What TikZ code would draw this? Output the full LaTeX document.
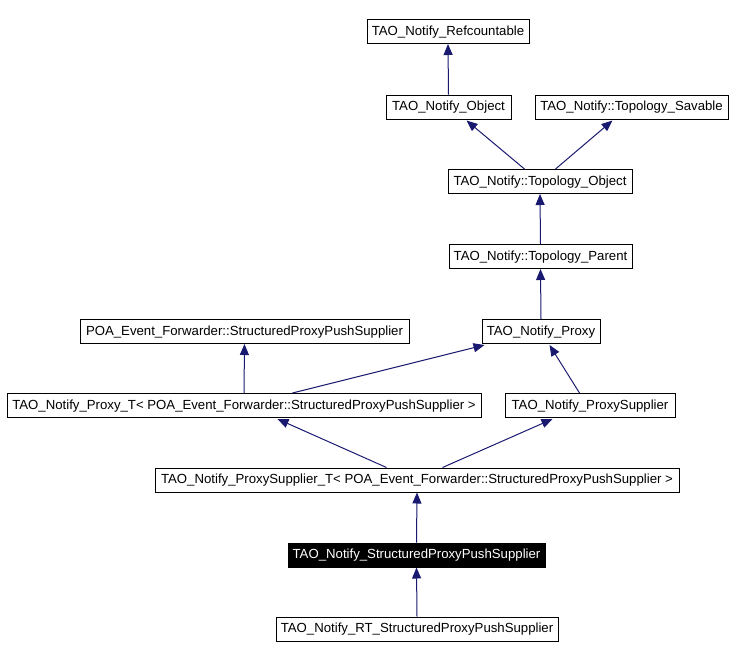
\documentclass[tikz,border=0pt]{standalone}
\usepackage{fontspec}
\setmainfont{Liberation Sans}
\usetikzlibrary{arrows.meta,calc}
\definecolor{edgeblue}{HTML}{191970}
\tikzset{
  cls/.style={draw=black, line width=1pt, inner sep=0pt, minimum height=24pt, text height=9.6pt, text depth=2.4pt, font=\fontsize{13.2}{15}\selectfont, anchor=center},
  hl/.style={cls, fill=black, text=white},
  edge/.style={draw=edgeblue, line width=1pt, -{Triangle[length=11pt,width=9pt]}, fill=none},
}
\begin{document}
\begin{tikzpicture}[x=1pt,y=-1pt]
\useasboundingbox (0,0) rectangle (736,659);
\node[cls, minimum width=162pt] (ref)  at (448,31.5) {TAO\_Notify\_Refcountable};
\node[cls, minimum width=125pt] (obj)  at (448.5,107) {TAO\_Notify\_Object};
\node[cls, minimum width=193pt] (sav)  at (631.5,107) {TAO\_Notify::Topology\_Savable};
\node[cls, minimum width=184pt] (tobj) at (540,181.5) {TAO\_Notify::Topology\_Object};
\node[cls, minimum width=183pt] (tpar) at (540.5,256.5) {TAO\_Notify::Topology\_Parent};
\node[cls, minimum width=329pt] (poa)  at (244.5,331.5) {POA\_Event\_Forwarder::StructuredProxyPushSupplier};
\node[cls, minimum width=118pt] (proxy) at (541,331.5) {TAO\_Notify\_Proxy};
\node[cls, minimum width=474pt] (proxyT) at (244,405.5) {TAO\_Notify\_Proxy\_T< POA\_Event\_Forwarder::StructuredProxyPushSupplier >};
\node[cls, minimum width=170pt] (psup) at (590,405.5) {TAO\_Notify\_ProxySupplier};
\node[cls, minimum width=524pt] (psT)  at (417,480) {TAO\_Notify\_ProxySupplier\_T< POA\_Event\_Forwarder::StructuredProxyPushSupplier >};
\node[hl,  minimum width=257pt] (spps) at (416.5,555) {TAO\_Notify\_StructuredProxyPushSupplier};
\node[cls, minimum width=282pt] (rt)   at (417,629) {TAO\_Notify\_RT\_StructuredProxyPushSupplier};

\draw[edge] (obj.north) -- (ref.south);
\draw[edge] ($(tobj.north west)+(77,0)$) -- ($(obj.south west)+(81,1)$);
\draw[edge] ($(tobj.north west)+(108,0)$) -- ($(sav.south west)+(78,1)$);
\draw[edge] (tpar.north) -- (tobj.south);
\draw[edge] (proxy.north) -- (tpar.south);
\draw[edge] (proxyT.north) -- (poa.south);
\draw[edge] ($(proxyT.north west)+(286,0)$) -- ($(proxy.south west)+(3,1)$);
\draw[edge] ($(psup.north west)+(75,0)$) -- ($(proxy.south west)+(68,1)$);
\draw[edge] ($(psT.north west)+(232,0)$) -- ($(proxyT.south west)+(271,1)$);
\draw[edge] ($(psT.north west)+(288,0)$) -- ($(psup.south west)+(48,1)$);
\draw[edge] (spps.north) -- (psT.south);
\draw[edge] (rt.north) -- (spps.south);
\end{tikzpicture}
\end{document}
